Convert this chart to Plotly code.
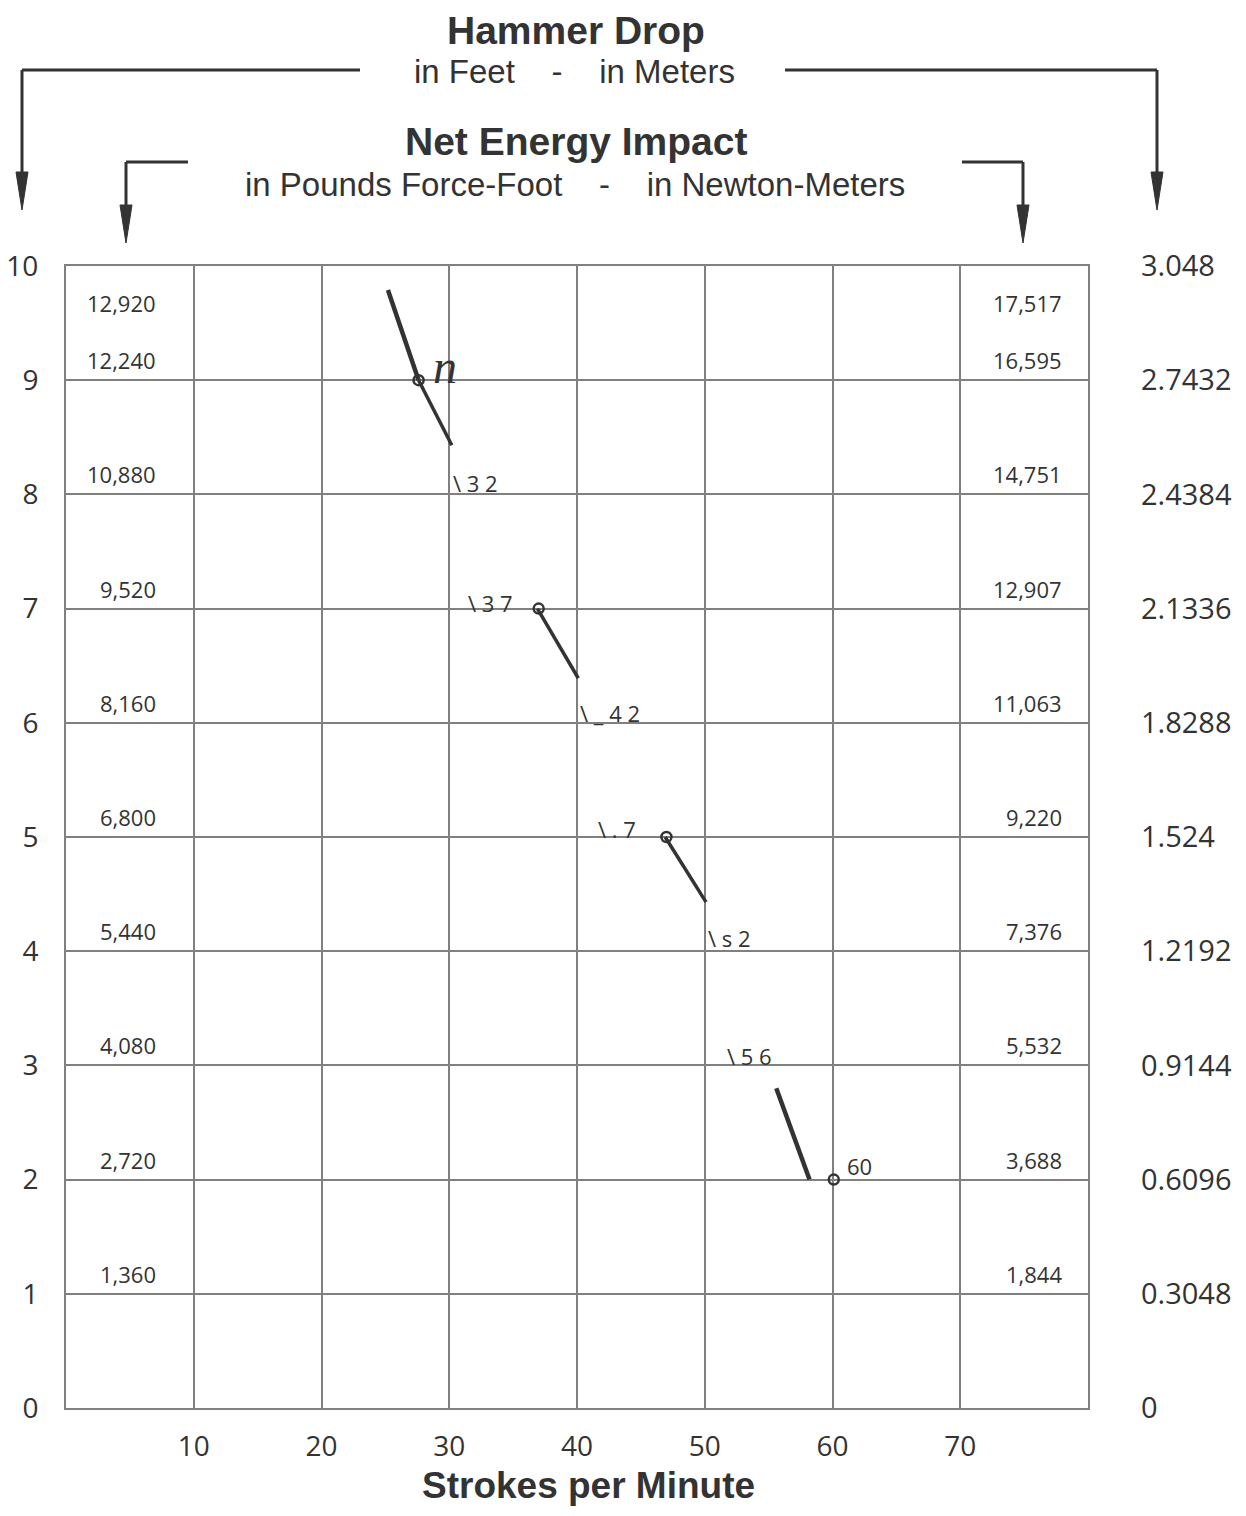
import plotly.graph_objects as go

# ---------------- data ----------------
strokes_ticks = [10, 20, 30, 40, 50, 60, 70]
drop_ft = [0, 1, 2, 3, 4, 5, 6, 7, 8, 9, 10]
drop_m = [0, 0.3048, 0.6096, 0.9144, 1.2192, 1.524, 1.8288, 2.1336, 2.4384, 2.7432, 3.048]
drop_m_labels = ["0", "0.3048", "0.6096", "0.9144", "1.2192", "1.524", "1.8288",
                 "2.1336", "2.4384", "2.7432", "3.048"]

# energy labels (lbf-ft left column, N-m right column) and the hammer drop (ft) they belong to
energy_drop = [9.5, 9, 8, 7, 6, 5, 4, 3, 2, 1]
energy_lbf = ["12,920", "12,240", "10,880", "9,520", "8,160", "6,800", "5,440",
              "4,080", "2,720", "1,360"]
energy_nm = ["17,517", "16,595", "14,751", "12,907", "11,063", "9,220", "7,376",
             "5,532", "3,688", "1,844"]

# curve segments (strokes per minute vs hammer drop in feet)
steep_strokes = [25.2, 27.6, None, 55.6, 58.2]
steep_drop = [9.79, 9.0, None, 2.8, 2.0]
shallow_strokes = [27.6, 30.2, None, 36.9, 40.1, None, 46.9, 50.1]
shallow_drop = [9.0, 8.43, None, 7.0, 6.39, None, 5.0, 4.43]
marker_strokes = [27.6, 37.0, 47.0, 60.1]
marker_drop = [9.0, 7.0, 5.0, 2.0]

# point labels (as printed)
pt_labels = ["\\ 3 2", "\\ 3 7", "\\ _ 4 2", "\\ . 7", "\\ s 2", "\\ 5 6", "60"]
pt_label_strokes = [30.1, 31.3, 40.1, 41.5, 50.1, 51.6, 61.0]
pt_label_drop = [8.1, 7.05, 6.09, 5.07, 4.12, 3.08, 2.12]

# ---------------- layout geometry ----------------
# page body has an 8px margin: figure coords = reference coords - 8
OFF = 8
W, H = 1246 - 2 * OFF, 1516 - 2 * OFF
L, R, T, B = 66 - OFF, 1088 - OFF, 266 - OFF, 1408 - OFF
PW, PH = R - L, B - T


def px(x):
    return (x - OFF - L) / PW


def py(y):
    return (B - (y - OFF)) / PH


INK = "#333333"
GRID = "#808080"
FONT = "Open Sans"
TFONT = "Liberation Sans"

fig = go.Figure()

fig.add_trace(go.Scatter(x=steep_strokes, y=steep_drop, mode="lines",
                         line=dict(color=INK, width=4.5), hoverinfo="skip",
                         showlegend=False))
fig.add_trace(go.Scatter(x=shallow_strokes, y=shallow_drop, mode="lines",
                         line=dict(color=INK, width=3.5), hoverinfo="skip",
                         showlegend=False))
fig.add_trace(go.Scatter(x=marker_strokes, y=marker_drop, mode="markers",
                         marker=dict(symbol="circle-open", size=10, color=INK,
                                     line=dict(width=2.5, color=INK)),
                         hoverinfo="skip", showlegend=False))
# meters axis carrier
fig.add_trace(go.Scatter(x=[None] * len(drop_m), y=drop_m, yaxis="y2", mode="lines",
                         hoverinfo="skip", showlegend=False))

annotations = []
for d, a, b in zip(energy_drop, energy_lbf, energy_nm):
    annotations.append(dict(x=7.2, y=d, text=a, showarrow=False, xanchor="right",
                            yanchor="bottom", yshift=3,
                            font=dict(family=FONT, size=22, color=INK)))
    annotations.append(dict(x=78.1, y=d, text=b, showarrow=False, xanchor="right",
                            yanchor="bottom", yshift=3,
                            font=dict(family=FONT, size=22, color=INK)))
for t, s, d in zip(pt_labels, pt_label_strokes, pt_label_drop):
    annotations.append(dict(x=s, y=d, text=t, showarrow=False, xanchor="left",
                            yanchor="middle",
                            font=dict(family=FONT, size=22, color=INK)))
annotations.append(dict(x=29.7, y=9.12, text="<i>n</i>", showarrow=False,
                        xanchor="center", yanchor="middle",
                        font=dict(family="Liberation Serif", size=48, color=INK)))

nb = "\u00a0"
titles = [
    ("<b>Hammer Drop</b>", 576, 30, 39),
    (f"in Feet{nb*4}-{nb*4}in Meters", 574, 72, 33),
    ("<b>Net Energy Impact</b>", 576, 142, 39),
    (f"in Pounds Force-Foot{nb*4}-{nb*4}in Newton-Meters", 575, 185, 33),
]
for txt, x, y, s in titles:
    annotations.append(dict(x=px(x), y=py(y), xref="paper", yref="paper", text=txt,
                            showarrow=False, xanchor="center", yanchor="middle",
                            font=dict(family=TFONT, size=s, color=INK)))
annotations.append(dict(x=px(588), y=py(1508), xref="paper", yref="paper",
                        text="<b>Strokes per Minute</b>", showarrow=False,
                        xanchor="center", yanchor="bottom",
                        font=dict(family=TFONT, size=37, color=INK)))

shapes = []


def line(x0, y0, x1, y1):
    shapes.append(dict(type="line", xref="paper", yref="paper",
                       x0=px(x0), y0=py(y0), x1=px(x1), y1=py(y1),
                       line=dict(color=INK, width=3)))


def head(x, y):
    hl, hw = 38, 6
    path = (f"M {px(x)},{py(y)} L {px(x - hw)},{py(y - hl)} "
            f"L {px(x + hw)},{py(y - hl)} Z")
    shapes.append(dict(type="path", xref="paper", yref="paper", path=path,
                       fillcolor=INK, line=dict(color=INK, width=1)))


# outer bracket (Hammer Drop)
line(22, 70, 360, 70)
line(22, 70, 22, 175)
head(22, 210)
line(785, 70, 1157, 70)
line(1157, 70, 1157, 175)
head(1157, 210)
# inner bracket (Net Energy)
line(126, 162, 188, 162)
line(126, 162, 126, 208)
head(126, 243)
line(962, 162, 1023, 162)
line(1023, 162, 1023, 208)
head(1023, 243)

fig.update_layout(
    width=W, height=H,
    margin=dict(l=L, r=W - R, t=T, b=H - B, pad=0, autoexpand=False),
    paper_bgcolor="white", plot_bgcolor="white",
    xaxis=dict(range=[0, 80], tickvals=strokes_ticks, showgrid=True,
               gridcolor=GRID, gridwidth=1.8, zeroline=False,
               showline=True, linecolor=GRID, linewidth=2, mirror=True,
               ticks="", ticklabelstandoff=12, automargin=False,
               tickfont=dict(family=FONT, size=28, color=INK)),
    yaxis=dict(range=[0, 10], tickvals=drop_ft, showgrid=True,
               gridcolor=GRID, gridwidth=1.8, zeroline=False,
               showline=True, linecolor=GRID, linewidth=2, mirror=True,
               ticks="", ticklabelstandoff=20, automargin=False,
               tickfont=dict(family=FONT, size=28, color=INK)),
    yaxis2=dict(range=[0, 3.048], overlaying="y", side="right",
                tickvals=drop_m, ticktext=drop_m_labels, showgrid=False,
                zeroline=False, showline=False, ticks="", ticklabelstandoff=52,
                automargin=False,
                tickfont=dict(family=FONT, size=29, color=INK)),
    annotations=annotations,
    shapes=shapes,
    showlegend=False,
)

fig.write_html("out.html")
